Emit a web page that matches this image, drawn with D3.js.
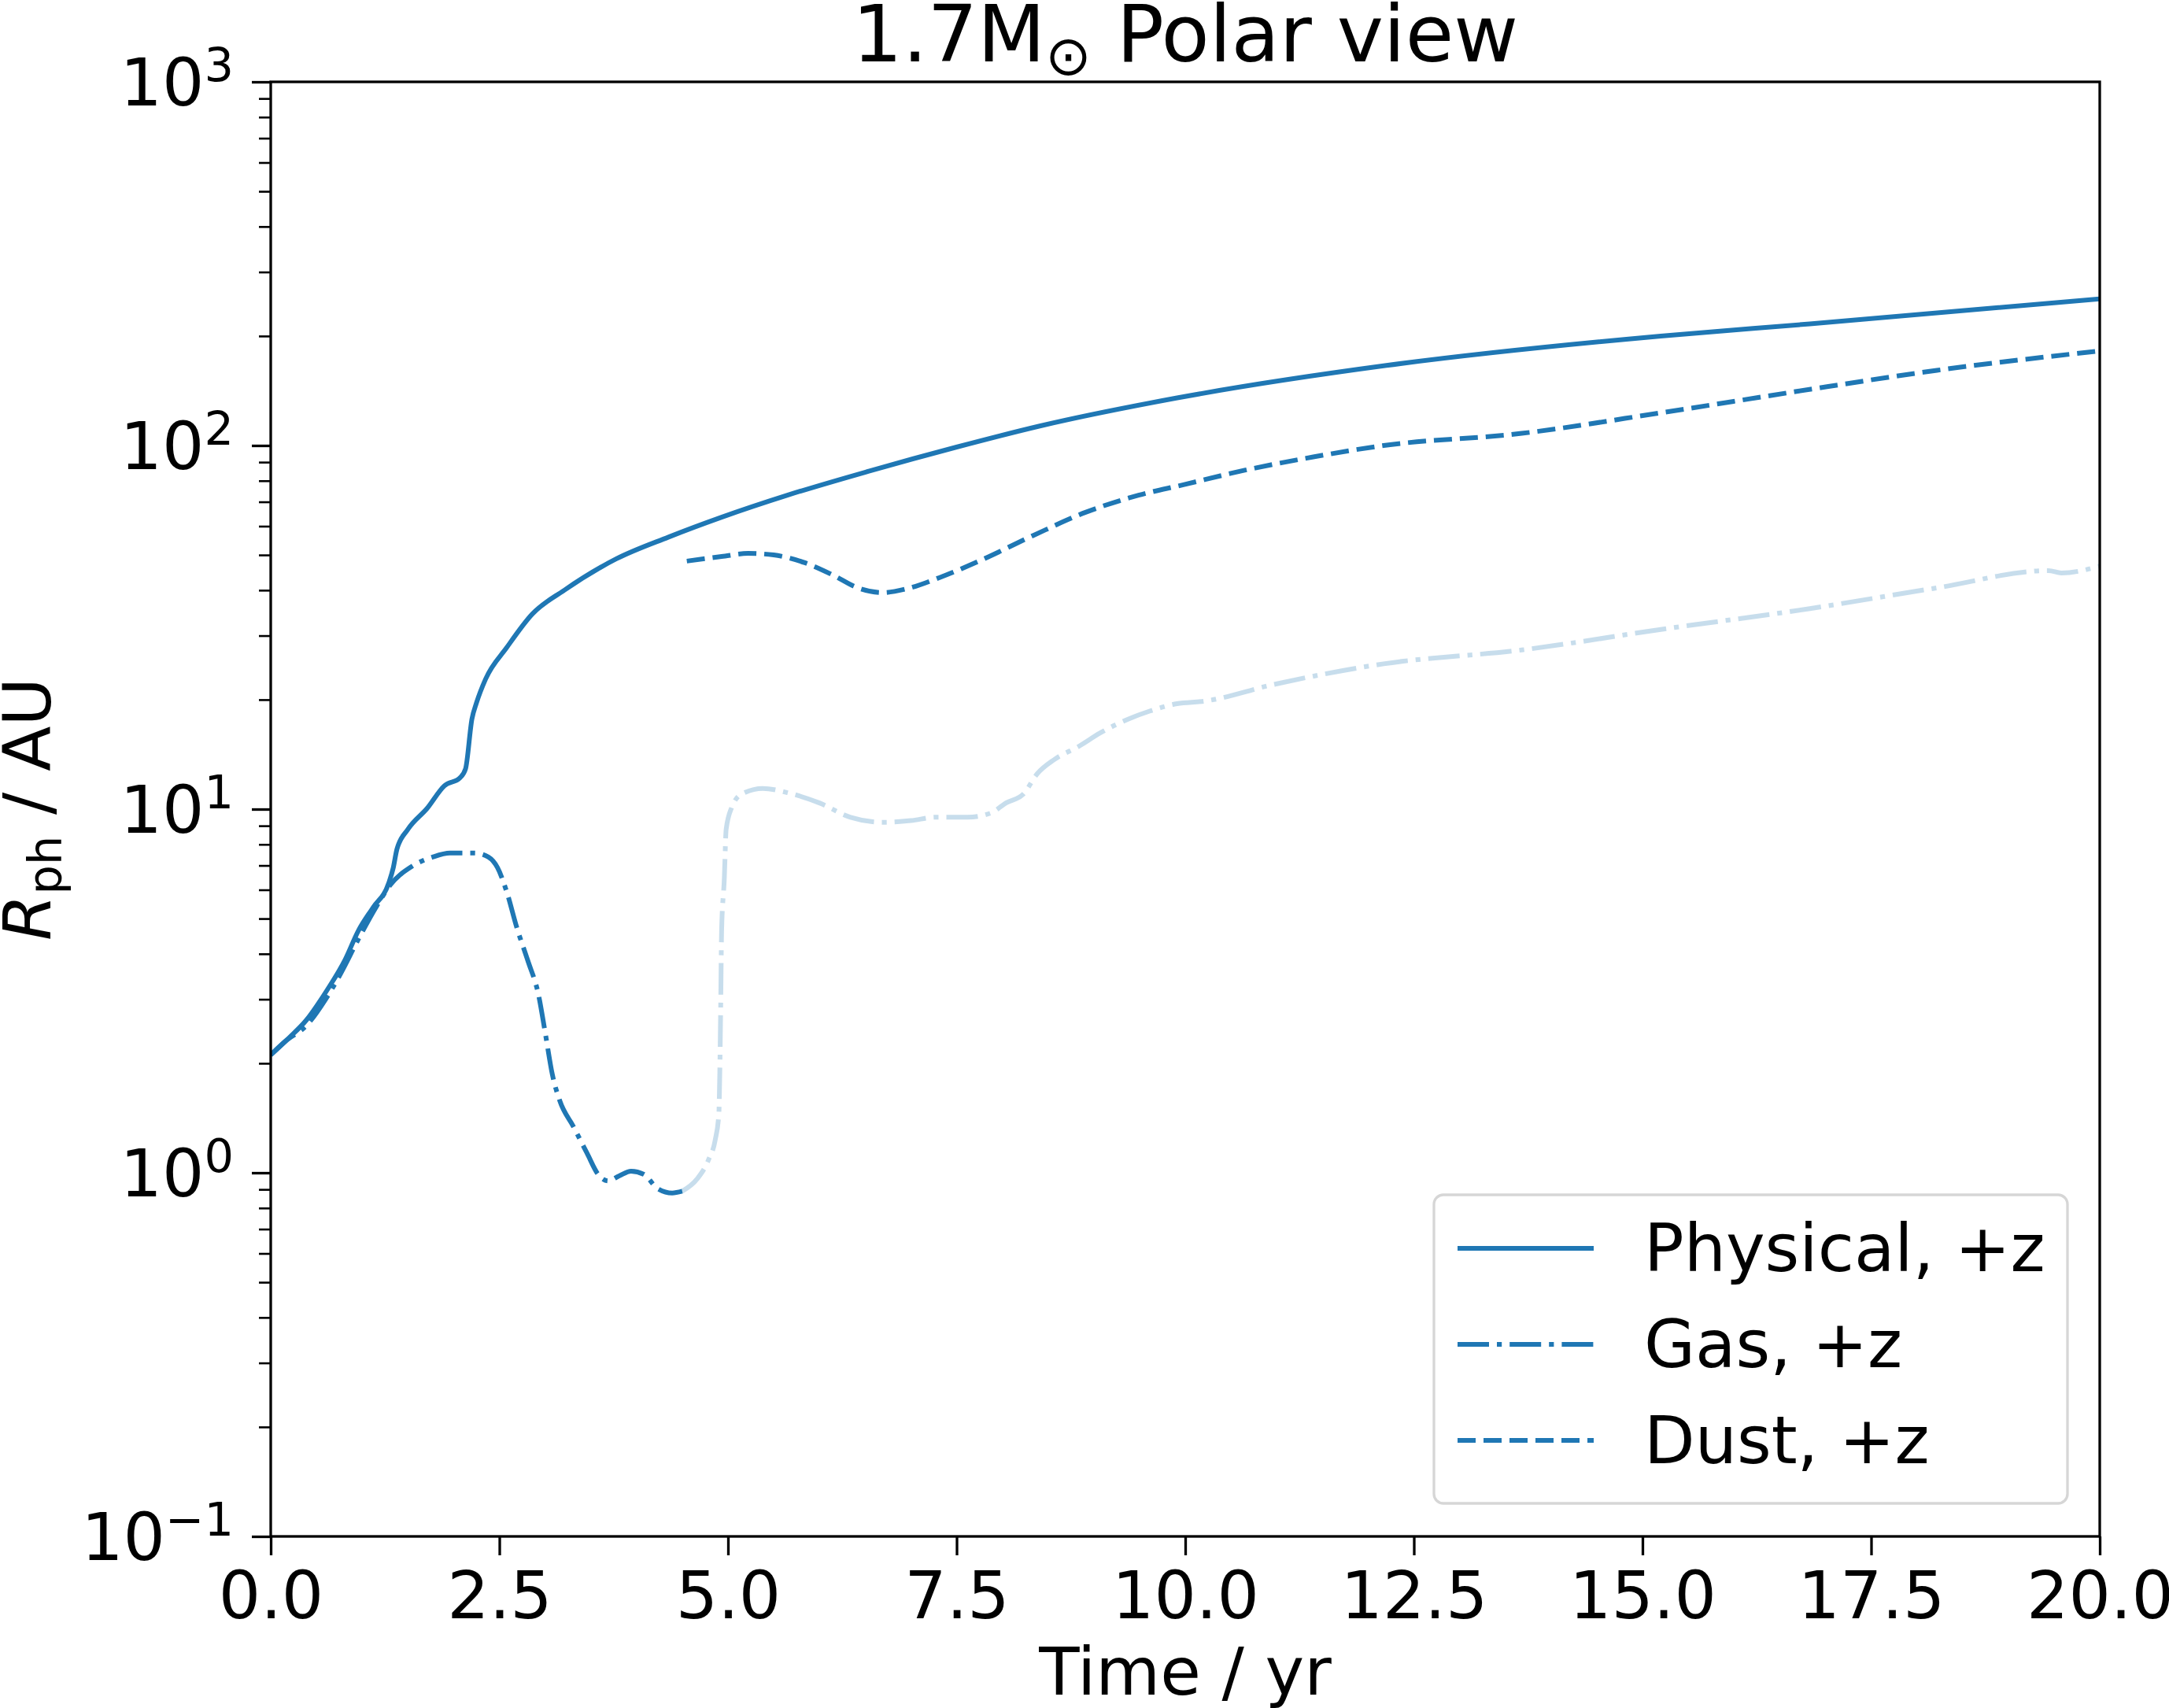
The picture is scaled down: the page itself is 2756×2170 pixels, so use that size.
<!DOCTYPE html>
<html><head><meta charset="utf-8">
<script src="https://cdn.jsdelivr.net/npm/d3@7"></script>
<style>
body{margin:0;background:#fff}
svg{display:block}
text{font-family:"DejaVu Sans",sans-serif;fill:#000}
</style>
</head><body>
<svg id="chart" width="2756" height="2170"></svg>
<script>
// ---- data ----
const timePhysical=[0,0.2,0.39,0.62,0.81,0.96,1.12,1.29,1.34,1.38,1.5,1.71,1.9,2.07,2.13,2.2,2.25,2.35,2.58,2.86,3.21,3.78,4.35,4.93,5.65,6.54,7.5,8.4,9.9,12.2,15.2,16.83,20];
const rPhysical=[2.11,2.35,2.63,3.19,3.84,4.64,5.37,6.26,6.9,7.76,8.8,10.05,11.6,12.2,12.9,17.7,19.6,22.8,27.8,34.4,40,48.8,56,63.5,73,85,99,113,135,166,200,216,253];

const timeGasEarly=[0,0.16,0.39,0.6,0.77,0.95,1.16,1.31,1.54,1.77,1.96,2.23,2.38,2.48,2.58,2.69,2.81,2.93,3.0,3.08,3.16,3.31,3.46,3.58,3.69,3.81,3.94,4.08,4.23,4.39,4.5];
const rGasEarly=[2.11,2.3,2.54,3.0,3.55,4.35,5.42,6.2,6.95,7.38,7.57,7.57,7.38,6.9,5.93,4.73,3.84,3.07,2.44,1.86,1.58,1.34,1.13,0.99,0.95,0.98,1.01,0.99,0.905,0.88,0.89];

const timeGasLate=[4.5,4.66,4.79,4.86,4.9,4.91,4.92,4.93,4.96,4.98,5.04,5.15,5.38,5.65,6.0,6.34,6.69,7.0,7.27,7.62,7.88,8.04,8.23,8.38,8.57,8.84,9.07,9.38,9.61,9.91,10.2,10.96,12.17,13.68,15.2,16.83,18.22,19.44,19.58,20];
const rGasLate=[0.89,0.96,1.09,1.23,1.45,1.86,2.82,4.6,6.45,8.8,10.1,11.0,11.4,11.1,10.4,9.5,9.2,9.3,9.5,9.5,9.77,10.4,11.0,12.5,13.7,14.9,16.2,17.7,18.6,19.5,19.8,22,25.1,27.4,31.2,35.6,40.6,45.3,44.6,46.6];

const timeDust=[4.55,4.93,5.22,5.5,5.84,6.15,6.42,6.69,6.96,7.31,7.76,8.34,8.91,9.49,9.98,10.65,11.4,12.17,13.68,15.2,16.7,18.22,20];
const rDust=[48.1,49.5,50.5,50.0,47.6,44,40.6,39.4,40.4,43.3,48.3,56.6,65.5,73,78,85.5,93,100,108,123,141,161,182];

const xTickValues=[0,2.5,5,7.5,10,12.5,15,17.5,20];
const yMajorTicks=[0.1,1,10,100,1000];
const yTickExponents=["\u22121","0","1","2","3"];
const legendLabels=["Physical, +z","Gas, +z","Dust, +z"];

// ---- layout ----
const M={left:344,top:104,right:2668,bottom:1952};
const FS=84, SUB=59, TFS=100, TSUB=70;
const BLUE="#1f77b4";
const LW=6;
const DASHED="23,10", DASHDOT="40,10,6.2,10";

const svg=d3.select("#chart");
const x=d3.scaleLinear().domain([0,20]).range([M.left,M.right]);
const y=d3.scaleLog().domain([0.1,1000]).range([M.bottom,M.top]);

svg.append("defs").append("clipPath").attr("id","clip")
  .append("rect").attr("x",M.left).attr("y",M.top)
  .attr("width",M.right-M.left).attr("height",M.bottom-M.top);

const line=d3.line().x(d=>x(d[0])).y(d=>y(d[1])).curve(d3.curveMonotoneX);
const zip=(a,b)=>a.map((v,i)=>[v,b[i]]);

const g=svg.append("g").attr("clip-path","url(#clip)");
g.append("path").datum(zip(timePhysical,rPhysical)).attr("d",line)
  .attr("fill","none").attr("stroke",BLUE).attr("stroke-width",LW).attr("stroke-linejoin","round");
g.append("path").datum(zip(timeGasLate,rGasLate)).attr("d",line)
  .attr("fill","none").attr("stroke",BLUE).attr("stroke-opacity",0.25).attr("stroke-width",LW)
  .attr("stroke-dasharray",DASHDOT);
g.append("path").datum(zip(timeGasEarly,rGasEarly)).attr("d",line)
  .attr("fill","none").attr("stroke",BLUE).attr("stroke-width",LW).attr("stroke-dasharray",DASHDOT);
g.append("path").datum(zip(timeDust,rDust)).attr("d",line)
  .attr("fill","none").attr("stroke",BLUE).attr("stroke-width",LW).attr("stroke-dasharray",DASHED);

// ---- axes ----
const xAxis=d3.axisBottom(x).tickValues(xTickValues).tickSize(24).tickPadding(20)
  .tickFormat(d3.format(".1f"));
const xa=svg.append("g").attr("transform",`translate(0,${M.bottom})`).call(xAxis);
xa.select(".domain").remove();
xa.selectAll(".tick line").attr("stroke","#000").attr("stroke-width",3.3);
xa.selectAll(".tick text").attr("font-size",FS).attr("font-family","DejaVu Sans").attr("fill","#000");

const yMinor=[];
for(let k=-1;k<=2;k++) for(let m=2;m<=9;m++) yMinor.push(m*Math.pow(10,k));
const yAxisMinor=d3.axisLeft(y).tickValues(yMinor).tickSize(15).tickFormat("");
const yam=svg.append("g").attr("transform",`translate(${M.left},0)`).call(yAxisMinor);
yam.select(".domain").remove();
yam.selectAll(".tick line").attr("stroke","#000").attr("stroke-width",2.6);

const yAxisMajor=d3.axisLeft(y).tickValues(yMajorTicks).tickSize(24).tickFormat("");
const yaM=svg.append("g").attr("transform",`translate(${M.left},0)`).call(yAxisMajor);
yaM.select(".domain").remove();
yaM.selectAll(".tick line").attr("stroke","#000").attr("stroke-width",3.3);

yMajorTicks.forEach((v,i)=>{
  const t=svg.append("text").attr("x",297).attr("y",y(v)+30)
    .attr("text-anchor","end").attr("font-size",FS);
  t.append("tspan").text("10");
  t.append("tspan").attr("font-size",SUB).attr("dy",-31).text(yTickExponents[i]);
});

// spines
svg.append("rect").attr("x",M.left).attr("y",M.top)
  .attr("width",M.right-M.left).attr("height",M.bottom-M.top)
  .attr("fill","none").attr("stroke","#000").attr("stroke-width",3.3);

// ---- labels ----
const cx=(M.left+M.right)/2, cy=(M.top+M.bottom)/2;
svg.append("text").attr("x",cx).attr("y",2153).attr("text-anchor","middle")
  .attr("font-size",FS).text("Time / yr");

const yl=svg.append("text").attr("transform",`translate(64,${cy}) rotate(-90)`)
  .attr("text-anchor","middle").attr("font-size",FS);
yl.append("tspan").attr("font-style","italic").text("R");
yl.append("tspan").attr("font-size",SUB).attr("dy",14).text("ph");
yl.append("tspan").attr("dy",-14).text(" / AU");

const tt=svg.append("text").attr("x",cx).attr("y",78).attr("text-anchor","middle").attr("font-size",TFS);
tt.append("tspan").text("1.7M");
tt.append("tspan").attr("font-size",TSUB).attr("dy",17).text("\u2299");
tt.append("tspan").attr("dy",-17).text(" Polar view");

// ---- legend ----
const lg=svg.append("g");
lg.append("rect").attr("x",1822).attr("y",1518).attr("width",805).attr("height",392)
  .attr("rx",12).attr("ry",12).attr("fill","#fff").attr("fill-opacity",0.8)
  .attr("stroke","#cccccc").attr("stroke-opacity",0.8).attr("stroke-width",3.3);
const legendStyles=[null,DASHDOT,DASHED];
const rowY=[1586,1708,1830];
legendLabels.forEach((lab,i)=>{
  const p=lg.append("line").attr("x1",1852).attr("x2",2025).attr("y1",rowY[i]).attr("y2",rowY[i])
    .attr("stroke",BLUE).attr("stroke-width",LW);
  if(legendStyles[i]) p.attr("stroke-dasharray",legendStyles[i]);
  lg.append("text").attr("x",2089).attr("y",rowY[i]+29).attr("font-size",FS).text(lab);
});
</script>
</body></html>
